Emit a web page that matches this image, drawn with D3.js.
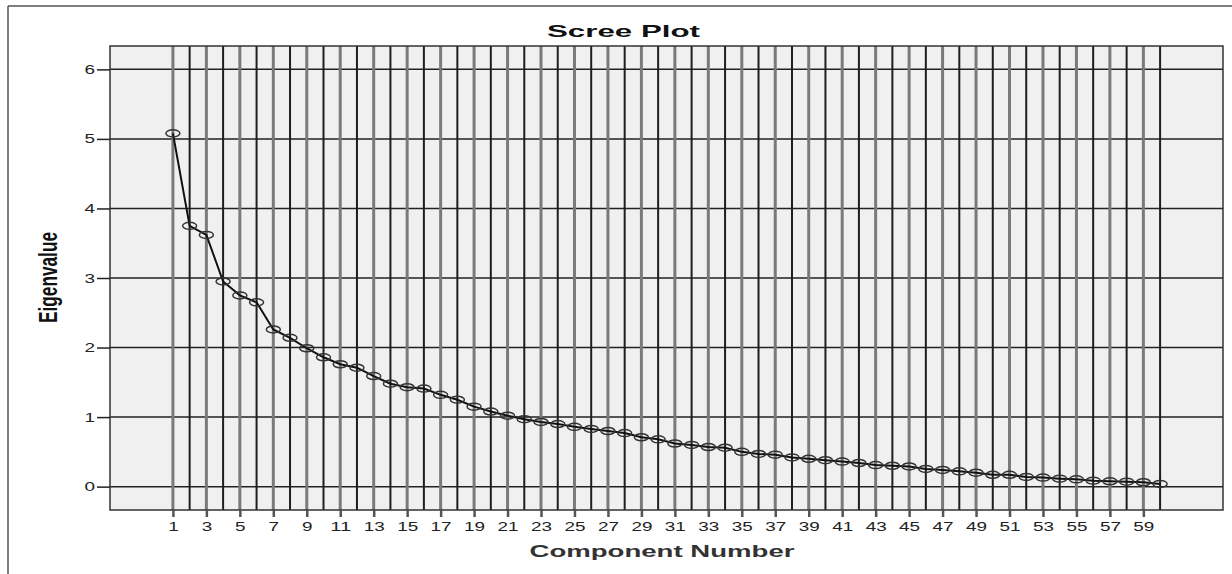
<!DOCTYPE html>
<html>
  <head>
    <meta charset="UTF-8" />
    <title>Scree Plot</title>
    <script src="https://d3js.org/d3.v7.min.js"></script>
    <style>
      body { margin: 0; background: #fff; }
      text { font-family: "Liberation Sans", Arial, sans-serif; }
    </style>
  </head>
  <body>
    <div id="chart"></div>
    <script>
      // donnees
      const components = d3.range(1, 61);
      const eigenvalues = [
        5.08, 3.75, 3.62, 2.95, 2.75, 2.65, 2.26, 2.14, 1.99, 1.86,
        1.76, 1.71, 1.59, 1.48, 1.43, 1.41, 1.32, 1.25, 1.15, 1.08,
        1.02, 0.97, 0.93, 0.90, 0.86, 0.83, 0.80, 0.77, 0.71, 0.68,
        0.62, 0.60, 0.57, 0.56, 0.50, 0.47, 0.46, 0.42, 0.40, 0.38,
        0.36, 0.34, 0.31, 0.30, 0.29, 0.255, 0.24, 0.22, 0.20, 0.17,
        0.17, 0.14, 0.13, 0.115, 0.105, 0.086, 0.077, 0.072, 0.063, 0.039
      ];
      const yTicks = [0, 1, 2, 3, 4, 5, 6];
      const xTicks = components.filter((d) => d % 2 == 1);

      const width = 1232, height = 574;
      const plot = { left: 110, right: 1223, top: 46, bottom: 510 };

      const svg = d3.select("#chart")
        .append("svg")
        .attr("width", width)
        .attr("height", height);

      // cadre de l'image (coupé a droite et en bas)
      svg.append("line")
        .attr("x1", 8).attr("x2", 8).attr("y1", 6).attr("y2", height)
        .style("stroke", "#555").style("stroke-width", 1.5);
      svg.append("line")
        .attr("x1", 8).attr("x2", width).attr("y1", 6).attr("y2", 6)
        .style("stroke", "#555").style("stroke-width", 1.5);

      const x = d3.scaleLinear().domain([-2.76, 63.76]).range([plot.left, plot.right]);
      const y = d3.scaleLinear().domain([-0.336, 6.336]).range([plot.bottom, plot.top]);

      svg.append("rect")
        .attr("x", plot.left)
        .attr("y", plot.top)
        .attr("width", plot.right - plot.left)
        .attr("height", plot.bottom - plot.top)
        .style("fill", "#f0f0f0");

      // grille horizontale
      svg.append("g")
        .selectAll("line")
        .data(yTicks)
        .join("line")
        .attr("x1", plot.left).attr("x2", plot.right)
        .attr("y1", (d) => y(d)).attr("y2", (d) => y(d))
        .style("stroke", "#222")
        .style("stroke-width", 1.5);

      // grille verticale : une ligne par composante
      svg.append("g")
        .selectAll("line")
        .data(components)
        .join("line")
        .attr("x1", (d) => x(d)).attr("x2", (d) => x(d))
        .attr("y1", plot.top).attr("y2", plot.bottom)
        .style("stroke", (d) => (d % 2 == 1 ? "#7a7a7a" : "#1e1e1e"))
        .style("stroke-width", (d) => (d % 2 == 1 ? 3 : 2));

      svg.append("rect")
        .attr("x", plot.left)
        .attr("y", plot.top)
        .attr("width", plot.right - plot.left)
        .attr("height", plot.bottom - plot.top)
        .style("fill", "none")
        .style("stroke", "#333")
        .style("stroke-width", 1.5);

      // axes
      const yAxis = svg.append("g")
        .attr("transform", "translate(" + plot.left + ",0)")
        .call(d3.axisLeft(y).tickValues(yTicks).tickSize(13).tickPadding(2).tickFormat(d3.format("d")));
      const xAxis = svg.append("g")
        .attr("transform", "translate(0," + plot.bottom + ")")
        .call(d3.axisBottom(x).tickValues(xTicks).tickSize(7).tickPadding(5).tickFormat(d3.format("d")));

      [yAxis, xAxis].forEach((ax) => {
        ax.select(".domain").remove();
        ax.selectAll(".tick line").style("stroke", "#222").style("stroke-width", 1.5);
        ax.selectAll(".tick text")
          .style("font-size", "12.5px")
          .style("fill", "#222")
          .attr("textLength", (d) => String(d).length * 10.5)
          .attr("lengthAdjust", "spacingAndGlyphs");
      });
      xAxis.selectAll(".tick line").style("stroke", "#555").style("stroke-width", 2.5);

      // courbe et marqueurs
      const points = components.map((c, i) => ({ c: c, v: eigenvalues[i] }));
      svg.append("path")
        .datum(points)
        .attr("d", d3.line().x((d) => x(d.c)).y((d) => y(d.v)))
        .style("fill", "none")
        .style("stroke", "#111")
        .style("stroke-width", 2);

      svg.append("g")
        .selectAll("ellipse")
        .data(points)
        .join("ellipse")
        .attr("cx", (d) => x(d.c))
        .attr("cy", (d) => y(d.v))
        .attr("rx", 7)
        .attr("ry", 3.5)
        .style("fill", "none")
        .style("stroke", "#333")
        .style("stroke-width", 1.5);

      // titres
      svg.append("text")
        .attr("x", 623.5)
        .attr("y", 37)
        .attr("text-anchor", "middle")
        .attr("textLength", 153)
        .attr("lengthAdjust", "spacingAndGlyphs")
        .style("font-size", "16.5px")
        .style("font-weight", "bold")
        .style("fill", "#111")
        .text("Scree Plot");

      svg.append("text")
        .attr("x", 662)
        .attr("y", 557)
        .attr("text-anchor", "middle")
        .attr("textLength", 265)
        .attr("lengthAdjust", "spacingAndGlyphs")
        .style("font-size", "16.5px")
        .style("font-weight", "bold")
        .style("fill", "#333")
        .text("Component Number");

      svg.append("text")
        .attr("transform", "translate(57,277.5) scale(1.5,1) rotate(-90)")
        .attr("text-anchor", "middle")
        .attr("textLength", 91)
        .attr("lengthAdjust", "spacingAndGlyphs")
        .style("font-size", "17px")
        .style("font-weight", "bold")
        .style("fill", "#111")
        .text("Eigenvalue");
    </script>
  </body>
</html>
